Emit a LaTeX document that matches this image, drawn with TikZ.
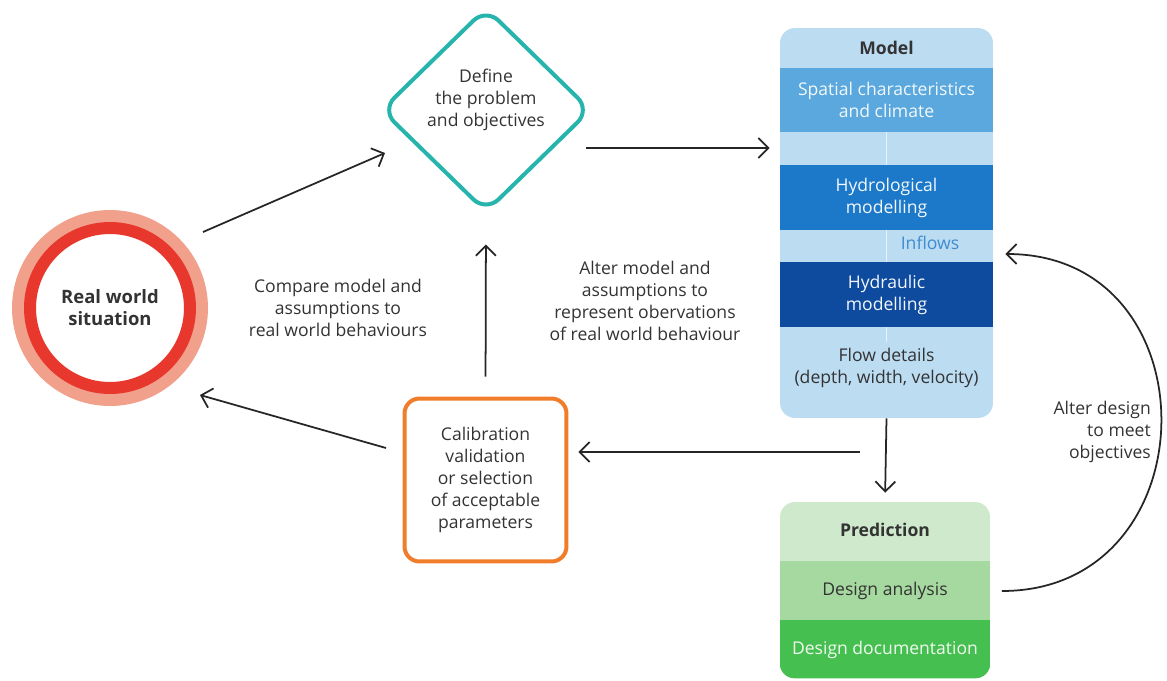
\documentclass[tikz,border=0pt]{standalone}
\usepackage{fontspec}
\setmainfont{Open Sans}
\usepackage[svgnames]{xcolor}
\usetikzlibrary{arrows.meta,shapes.geometric}

\definecolor{ringred}{RGB}{232,56,46}
\definecolor{ringpink}{RGB}{241,160,140}
\definecolor{defteal}{RGB}{38,180,172}
\definecolor{calorange}{RGB}{240,125,42}
\definecolor{modelbg}{RGB}{188,220,242}
\definecolor{blueA}{RGB}{90,168,221}
\definecolor{blueB}{RGB}{28,120,200}
\definecolor{blueC}{RGB}{14,74,158}
\definecolor{greenA}{RGB}{207,233,204}
\definecolor{greenB}{RGB}{166,217,160}
\definecolor{greenC}{RGB}{69,191,79}
\definecolor{ink}{RGB}{51,51,51}

\tikzset{
  txt/.style={font=\fontsize{10}{12.5}\selectfont, text=ink, align=center},
  head/.style={txt, font=\fontsize{10}{12.5}\selectfont\bfseries},
  flow/.style={-{Straight Barb[length=2mm,width=4mm]}, line width=1pt, draw=black!85},
  band/.style={txt, minimum width=4.26cm, minimum height=#1, inner sep=0pt, outer sep=0pt},
  link/.style={white!85!blueA, line width=0.8pt},
}

\begin{document}
\begin{tikzpicture}[x=0.02cm,y=-0.02cm]
\useasboundingbox (0,0) rectangle (1167,680);

\node[head, font=\fontsize{10.5}{12.5}\selectfont\bfseries, circle, minimum size=3.2cm, fill=white, draw=ringred, line width=0.24cm,
  preaction={draw=ringpink, line width=0.72cm}] (real) at (110,308) {Real world\\situation};
\node[diamond, draw=defteal, line width=0.08cm, rounded corners=0.35cm, minimum width=4.2cm, minimum height=4.1cm, inner sep=0pt]
  (define) at (486,110) {};
\node[txt] (definetxt) at (486,100) {Define\\the problem\\and objectives};
\node[txt, draw=calorange, line width=0.08cm, rounded corners=0.3cm, minimum width=3.24cm, minimum height=3.26cm]
  (calib) at (485.5,480) {Calibration\\validation\\or selection\\of acceptable\\parameters};

% model column
\node[fill=modelbg, rounded corners=0.3cm, minimum width=4.26cm, minimum height=7.8cm, inner sep=0pt] (model) at (886.5,223) {};
\node[head] (modeltitle) at (886.5,48) {Model};
\foreach \nm/\y/\col/\txt in {spatial/100/blueA/{Spatial characteristics\\and climate},
  hydro/197.5/blueB/{Hydrological\\modelling}, hydra/294.5/blueC/{Hydraulic\\modelling}}
  \node[band=1.3cm, fill=\col, text=white!92!blueA] (\nm) at (886.5,\y) {\txt};
\node[txt] (flowtxt) at (886.5,368) {Flow details\\(depth, width, velocity)};
\node[txt, text=blueB!85] (inflows) at (930,243) {Inflows};
\draw[link] (spatial.south) -- (hydro.north);
\draw[link] (hydro.south) -- (hydra.north);
\draw[link] (hydra.south) -- (flowtxt.north);

% prediction column
\node[fill=greenA, rounded corners=0.3cm, minimum width=4.2cm, minimum height=3.52cm, inner sep=0pt] (pred) at (885,590) {};
\begin{scope}
  \clip[rounded corners=0.3cm] (pred.south west) rectangle (pred.north east);
  \node[band=1.2cm, minimum width=4.2cm, fill=greenB] (analysis) at (885,591) {Design analysis};
  \node[band=1.2cm, minimum width=4.2cm, fill=greenC, text=white!92!greenC] (docs) at (885,650) {Design documentation};
\end{scope}
\node[head] (predtitle) at (885,530) {Prediction};

% labels
\node[txt] (compare) at (338,308) {Compare model and\\assumptions to\\real world behaviours};
\node[txt] (alter) at (645,301) {Alter model and\\assumptions to\\represent obervations\\of real world behaviour};
\node[txt, align=right, anchor=east] (alterdesign) at (1157,432) {Alter design\\to meet\\objectives};

% connectors
\draw[flow] ([shift={(1.86cm,1.52cm)}]real.center) -- ([shift={(-2.02cm,-0.86cm)}]define.center);
\draw[flow, shorten >=0.2cm] ([shift={(-0.14cm,-0.76cm)}]define.east) coordinate (d1) -- (d1 -| model.west);
\draw[flow, shorten <=0.4cm, shorten >=0.6cm] (calib.north) -- (define.south);
\draw[flow, shorten >=0.18cm] (model.south) -- (pred.north);
\coordinate (split) at (860,452);
\draw[flow, shorten >=0.2cm] (split) -- (split -| calib.east);
\draw[flow] ([shift={(-0.33cm,0.64cm)}]calib.west) -- ([shift={(1.8cm,-1.74cm)}]real.center);
\draw[flow] ([xshift=0.24cm]analysis.east) .. controls +(4.2cm,0) and +(4.2cm,0) .. ([shift={(0.24cm,-0.62cm)}]model.east);
\end{tikzpicture}
\end{document}
